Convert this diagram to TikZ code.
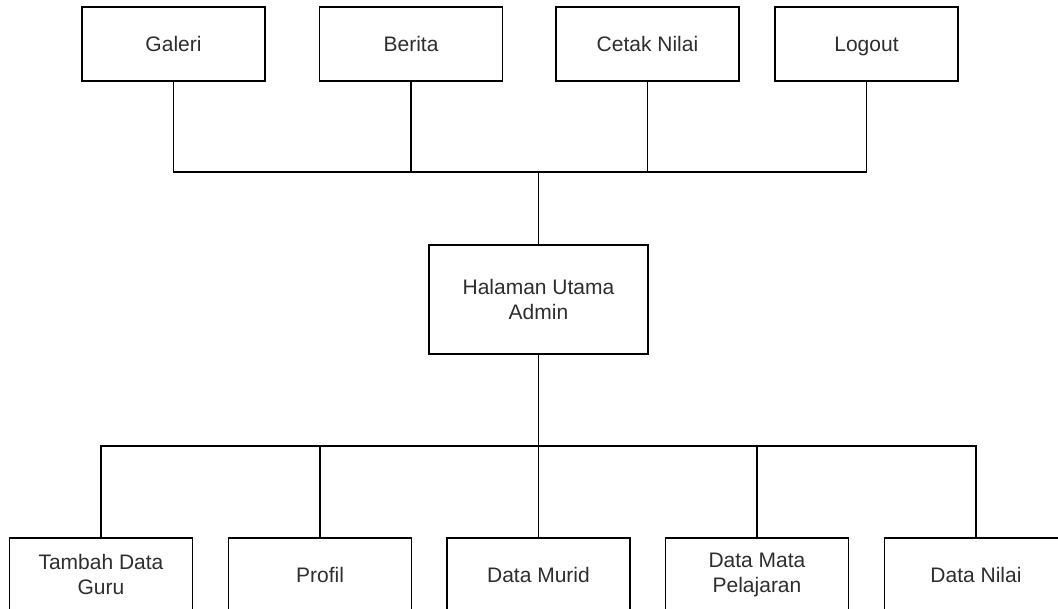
\documentclass[tikz,border=0pt]{standalone}
\usepackage{fontspec}
\setmainfont{Liberation Sans}

\begin{document}
\begin{tikzpicture}[x=1pt,y=1pt,
  menubox/.style={draw=drawColor,line width= 1.6pt,fill=fillColor,text=textColor,
    minimum width=183pt,minimum height= 74pt,inner sep=0pt,outer sep=0pt,
    align=center,font=\fontsize{21}{25}\selectfont},
  link/.style={draw=drawColor,line width= 1.6pt,line join=miter}]
\definecolor[named]{fillColor}{rgb}{1.00,1.00,1.00}
\definecolor[named]{drawColor}{rgb}{0.00,0.00,0.00}
\definecolor[named]{textColor}{rgb}{0.18,0.18,0.18}
\path[use as bounding box,fill=fillColor] (0,0) rectangle (1058.00,609.00);
\begin{scope}
\path[clip] (  0.00,  0.00) rectangle (1058.00,609.00);

% bus lines above and below the admin page
\coordinate (topbus) at (538.50,437.00);
\coordinate (lowbus) at (538.50,163.00);

% top row
\node[menubox] (galeri) at (173.50,565.00) {Galeri};
\node[menubox] (berita) at (411.00,565.00) {Berita};
\node[menubox] (cetak) at (647.50,565.00) {Cetak Nilai};
\node[menubox,text depth=0pt] (logout) at (866.50,565.00) {Logout};

% main page
\node[menubox,minimum width=219pt,minimum height=109pt] (admin) at (538.50,309.50) {Halaman Utama\\Admin};

% bottom row
\node[menubox] (guru) at (101.00, 34.00) {Tambah Data\\Guru};
\node[menubox] (profil) at (320.00, 34.00) {Profil};
\node[menubox] (murid) at (538.50, 34.00) {Data Murid};
\node[menubox] (mapel) at (757.00, 34.00) {Data Mata\\Pelajaran};
\node[menubox] (nilai) at (976.00, 34.00) {Data Nilai};

\path[link] (admin.north) -- (topbus);
\path[link] (galeri.south) |- (topbus);
\path[link] (berita.south) |- (topbus);
\path[link] (cetak.south) |- (topbus);
\path[link] (logout.south) |- (topbus);

\path[link] (admin.south) -- (lowbus);
\path[link] (guru.north) |- (lowbus);
\path[link] (profil.north) |- (lowbus);
\path[link] (murid.north) -- (lowbus);
\path[link] (mapel.north) |- (lowbus);
\path[link] (nilai.north) |- (lowbus);
\end{scope}
\end{tikzpicture}
\end{document}
